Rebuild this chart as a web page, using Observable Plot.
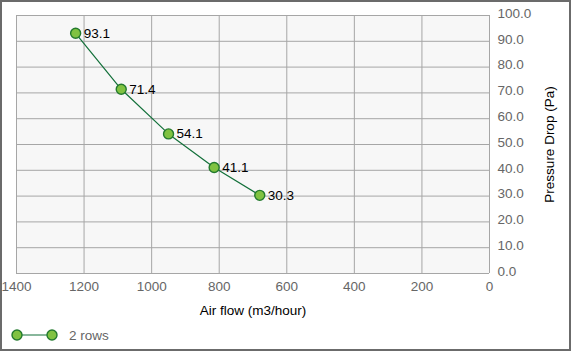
<!DOCTYPE html>
<html>
<head>
<meta charset="utf-8">
<script src="https://cdn.jsdelivr.net/npm/d3@7"></script>
<script src="https://cdn.jsdelivr.net/npm/@observablehq/plot@0.6"></script>
<style>
  html, body { margin: 0; padding: 0; background: #fff; }
  #wrap { position: relative; width: 571px; height: 351px; overflow: hidden; font-family: "Liberation Sans", Arial, sans-serif; }
  #border { position: absolute; left: 0; top: 0; width: 571px; height: 351px; box-sizing: border-box; border: 2px solid #6b6b6b; pointer-events: none; }
  #chart svg { display: block; }
  #legend { position: absolute; left: 10px; top: 326px; height: 18px; display: flex; align-items: center; font-size: 13.5px; color: #666; }
</style>
</head>
<body>
<div id="wrap">
  <div id="chart"></div>
  <div id="legend"></div>
  <div id="border"></div>
</div>
<script>
const airFlow = [1225, 1090, 950, 815, 680];
const pressureDrop = [93.1, 71.4, 54.1, 41.1, 30.3];
const xTicks = [1400, 1200, 1000, 800, 600, 400, 200, 0];
const yTicks = [0, 10, 20, 30, 40, 50, 60, 70, 80, 90, 100];
const seriesName = "2 rows";

const lineColor = "#13703a";
const pointFill = "#80c241";
const pointStroke = "#237a2e";
const fs = 13.5;

const data = airFlow.map((x, i) => ({x, y: pressureDrop[i]}));

const chart = Plot.plot({
  width: 571,
  height: 322,
  marginLeft: 16,
  marginRight: 82,
  marginTop: 15,
  marginBottom: 49,
  style: {fontFamily: "'Liberation Sans', Arial, sans-serif", fontSize: fs + "px", background: "transparent"},
  x: {domain: [1400, 0]},
  y: {domain: [0, 100]},
  marks: [
    Plot.frame({fill: "#f7f7f7", stroke: null}),
    Plot.gridX(xTicks, {stroke: "#a6a6a6", strokeOpacity: 1}),
    Plot.gridY(yTicks, {stroke: "#a6a6a6", strokeOpacity: 1}),
    Plot.axisX(xTicks, {tickSize: 0, tickPadding: 8, fill: "#666", fontSize: fs, tickFormat: d => String(d), label: null}),
    Plot.axisX([], {tickSize: 0, label: "Air flow (m3/hour)", labelAnchor: "center", labelArrow: "none", labelOffset: 41, fill: "#000", fontSize: fs}),
    Plot.axisY(yTicks, {anchor: "right", tickSize: 0, tickPadding: 8, dy: -2, fill: "#666", fontSize: fs, tickFormat: d => d.toFixed(1), label: null}),
    Plot.axisY([], {anchor: "right", tickSize: 0, label: "Pressure Drop (Pa)", labelAnchor: "center", labelArrow: "none", labelOffset: 64, fill: "#000", fontSize: fs}),
    Plot.line(data, {x: "x", y: "y", stroke: lineColor, strokeWidth: 1.2}),
    Plot.dot(data, {x: "x", y: "y", r: 5, fill: pointFill, stroke: pointStroke, strokeWidth: 1.4}),
    Plot.text(data, {x: "x", y: "y", text: d => d.y.toFixed(1), textAnchor: "start", dx: 8, fill: "#000", fontSize: fs})
  ]
});
document.getElementById("chart").appendChild(chart);

const legend = document.getElementById("legend");
legend.innerHTML = `<svg width="50" height="18"><line x1="7" y1="9" x2="42" y2="9" stroke="${lineColor}" stroke-width="1.2"/><circle cx="7" cy="9" r="5" fill="${pointFill}" stroke="${pointStroke}" stroke-width="1.4"/><circle cx="42" cy="9" r="5" fill="${pointFill}" stroke="${pointStroke}" stroke-width="1.4"/></svg><span style="margin-left:9px">${seriesName}</span>`;
</script>
</body>
</html>
